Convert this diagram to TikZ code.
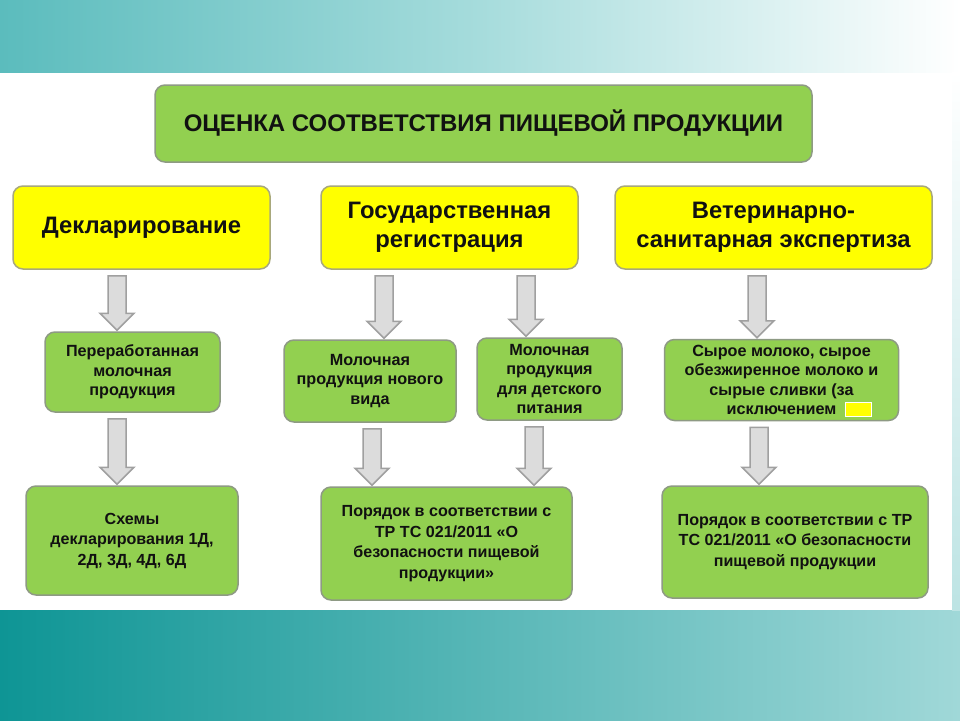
\documentclass[tikz,border=0pt]{standalone}
\usepackage{fontspec}
\setmainfont{Liberation Sans}
\usetikzlibrary{calc}
\definecolor{grn}{HTML}{92D050}
\definecolor{yel}{HTML}{FFFF00}
\definecolor{bordg}{HTML}{8E9A84}
\definecolor{bordy}{HTML}{A8A87C}
\definecolor{arrf}{HTML}{DCDCDC}
\definecolor{arrd}{HTML}{A0A0A0}
\definecolor{tealA}{HTML}{5BBCBD}
\definecolor{tealM}{HTML}{A6DCDC}
\definecolor{tealB}{HTML}{0E9595}
\definecolor{tealC}{HTML}{A0D8D8}
\definecolor{txt}{HTML}{111111}
\newcommand{\blockarr}[3]{%
  \draw[arrsty] let \p1=(#2.south), \p2=(#3.north) in
    ({#1pt-9pt},{\y1-6pt}) -- ({#1pt+9pt},{\y1-6pt}) -- ({#1pt+9pt},{\y2+18pt})
    -- ({#1pt+17pt},{\y2+18pt}) -- ({#1pt},{\y2+1pt}) -- ({#1pt-17pt},{\y2+18pt})
    -- ({#1pt-9pt},{\y2+18pt}) -- cycle;}
\begin{document}
\begin{tikzpicture}[x=1pt,y=-1pt,
  gbox/.style={draw=bordg, line width=1.5pt, fill=grn, rounded corners=10pt,
    inner sep=0pt, align=center, text=txt},
  ybox/.style={gbox, draw=bordy, fill=yel},
  tfont/.style={font=\fontsize{24}{28}\selectfont\bfseries},
  yfont/.style={font=\fontsize{23.8}{29}\selectfont\bfseries},
  mfont/.style={font=\fontsize{16.2}{19.5}\selectfont\bfseries},
  bfont/.style={font=\fontsize{16.1}{20.5}\selectfont\bfseries},
  arrsty/.style={draw=arrd, fill=arrf, line width=1.5pt, line join=miter}]
\useasboundingbox (0,0) rectangle (960,720);
% background
\fill[white] (0,0) rectangle (960,720);
\shade[left color=tealA, right color=white, middle color=tealM] (0,0) rectangle (960,72);
\shade[left color=tealB, right color=tealC] (0,610) rectangle (960,720);
\shade[top color=white, bottom color=tealC!70] (952,72) rectangle (960,610);
% title
\node[gbox, tfont, minimum width=657, minimum height=77] (title) at (483.5,123.5)
  {ОЦЕНКА СООТВЕТСТВИЯ ПИЩЕВОЙ ПРОДУКЦИИ};
% yellow row
\node[ybox, yfont, minimum width=257, minimum height=83] (y1) at (141.5,227.5) {Декларирование};
\node[ybox, yfont, minimum width=257, minimum height=83] (y2) at (449.5,227.5) {Государственная\\регистрация};
\node[ybox, yfont, minimum width=317, minimum height=83] (y3) at (773.5,227.5) {Ветеринарно-\\санитарная экспертиза};
% middle row
\node[gbox, mfont, minimum width=175, minimum height=80] (g1) at (132.5,372) {Переработанная\\молочная\\продукция};
\node[gbox, mfont, minimum width=172, minimum height=82] (g2) at (370,381) {Молочная\\продукция нового\\вида};
\node[gbox, mfont, minimum width=145, minimum height=82] (g3) at (549.5,379) {Молочная\\продукция\\для детского\\питания};
\node[gbox, mfont, minimum width=234, minimum height=81] (g4) at (781.5,380) {Сырое молоко, сырое\\обезжиренное молоко и\\сырые сливки (за\\исключением};
\node[draw=white, fill=yel, line width=1pt, minimum width=26, minimum height=14, inner sep=0pt] (ymark) at (858,409) {};
% bottom row
\node[gbox, bfont, minimum width=212, minimum height=109] (h1) at (132,540.5) {Схемы\\декларирования 1Д,\\2Д, 3Д, 4Д, 6Д};
\node[gbox, bfont, minimum width=251, minimum height=113] (h2) at (446.5,543.5) {Порядок в соответствии с\\ТР ТС 021/2011 «О\\безопасности пищевой\\продукции»};
\node[gbox, bfont, minimum width=266, minimum height=112] (h3) at (795,542) {Порядок в соответствии с ТР\\ТС 021/2011 «О безопасности\\пищевой продукции};
% arrows
\blockarr{117}{y1}{g1}
\blockarr{384}{y2}{g2}
\blockarr{526}{y2}{g3}
\blockarr{757}{y3}{g4}
\blockarr{117}{g1}{h1}
\blockarr{372}{g2}{h2}
\blockarr{534}{g3}{h2}
\blockarr{759}{g4}{h3}
\end{tikzpicture}
\end{document}
